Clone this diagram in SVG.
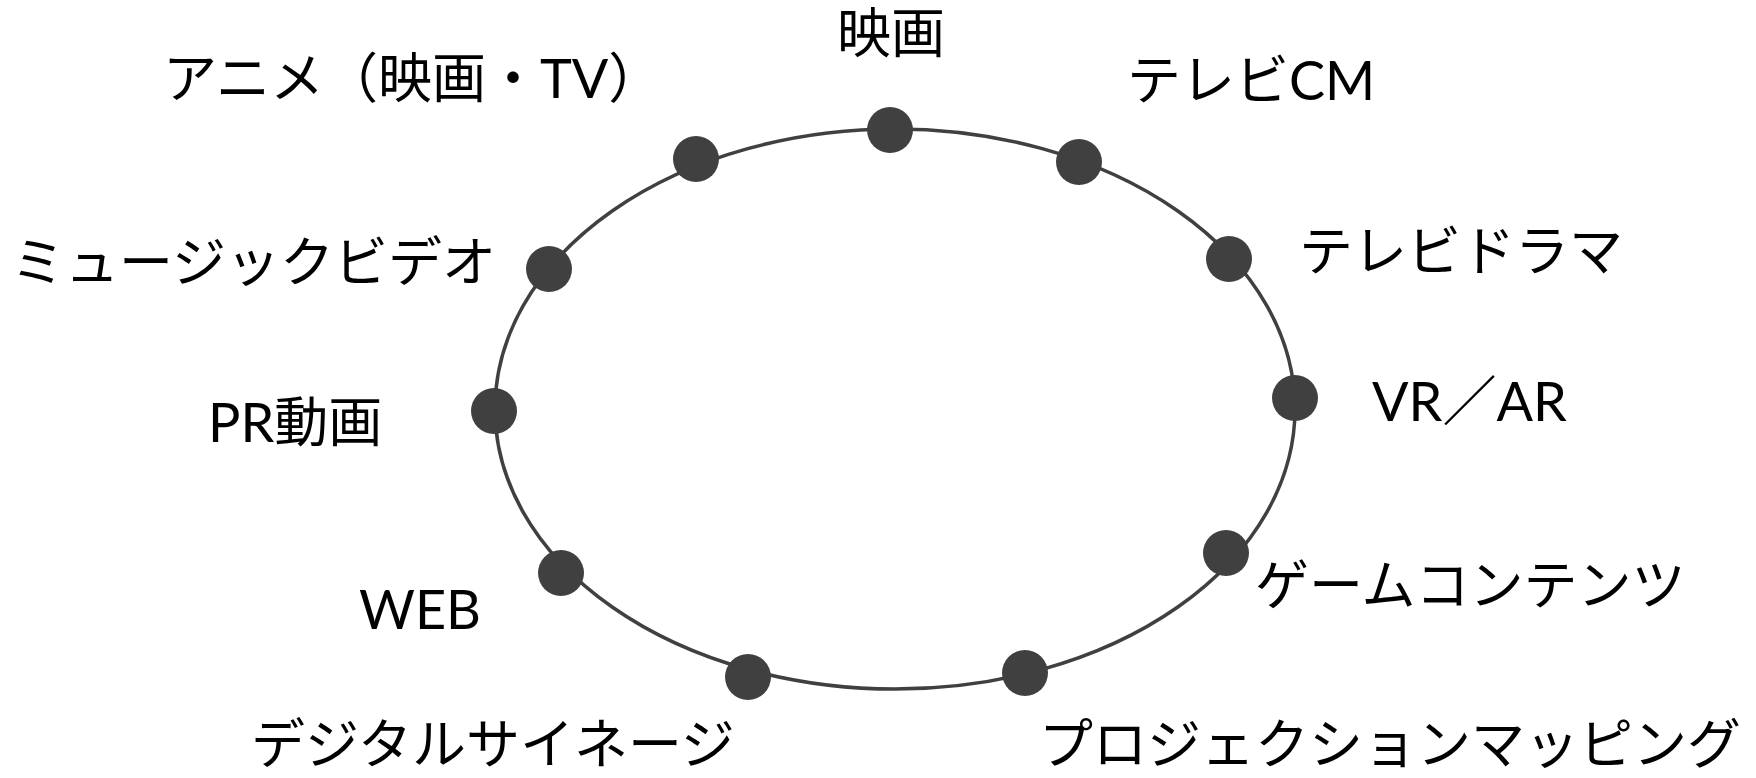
<svg xmlns="http://www.w3.org/2000/svg" width="1756" height="778" viewBox="0 0 1756 778">
<style>
.lbl{font-family:"Lato","Noto Sans CJK JP",sans-serif;font-size:54px;fill:#000}
.jp{font-family:"Noto Sans CJK JP",sans-serif}
.dot{fill:#404040}
</style>
<rect width="1756" height="778" fill="#fff"/>
<g id="connectors">
<ellipse cx="895" cy="409" rx="400" ry="280" fill="none" stroke="#404040" stroke-width="3.5"/>
</g>
<g id="n-eiga"><circle class="dot" cx="890" cy="130" r="23"/><text class="lbl" x="891" y="53" text-anchor="middle">映画</text></g>
<g id="n-tvcm"><circle class="dot" cx="1079" cy="162" r="23"/><text class="lbl" x="1127" y="100">テレビCM</text></g>
<g id="n-drama"><circle class="dot" cx="1229" cy="259" r="23"/><text class="lbl" x="1299" y="271">テレビドラマ</text></g>
<g id="n-vrar"><circle class="dot" cx="1295" cy="398" r="23"/><text class="lbl" x="1372" y="421">VR／AR</text></g>
<g id="n-game"><circle class="dot" cx="1226" cy="553" r="23"/><text class="lbl" x="1255" y="605">ゲームコンテンツ</text></g>
<g id="n-pm"><circle class="dot" cx="1025" cy="673" r="23"/><text class="lbl jp" x="1039" y="764">プロジェクションマッピング</text></g>
<g id="n-signage"><circle class="dot" cx="748" cy="677" r="23"/><text class="lbl jp" x="251" y="764">デジタルサイネージ</text></g>
<g id="n-web"><circle class="dot" cx="561" cy="573" r="23"/><text class="lbl" x="359" y="629" font-size="50">WEB</text></g>
<g id="n-pr"><circle class="dot" cx="494" cy="411" r="23"/><text class="lbl" x="208" y="442">PR動画</text></g>
<g id="n-mv"><circle class="dot" cx="549" cy="269" r="23"/><text class="lbl" x="11" y="282">ミュージックビデオ</text></g>
<g id="n-anime"><circle class="dot" cx="696" cy="159" r="23"/><text class="lbl" x="163" y="98">アニメ（映画・TV）</text></g>
</svg>
